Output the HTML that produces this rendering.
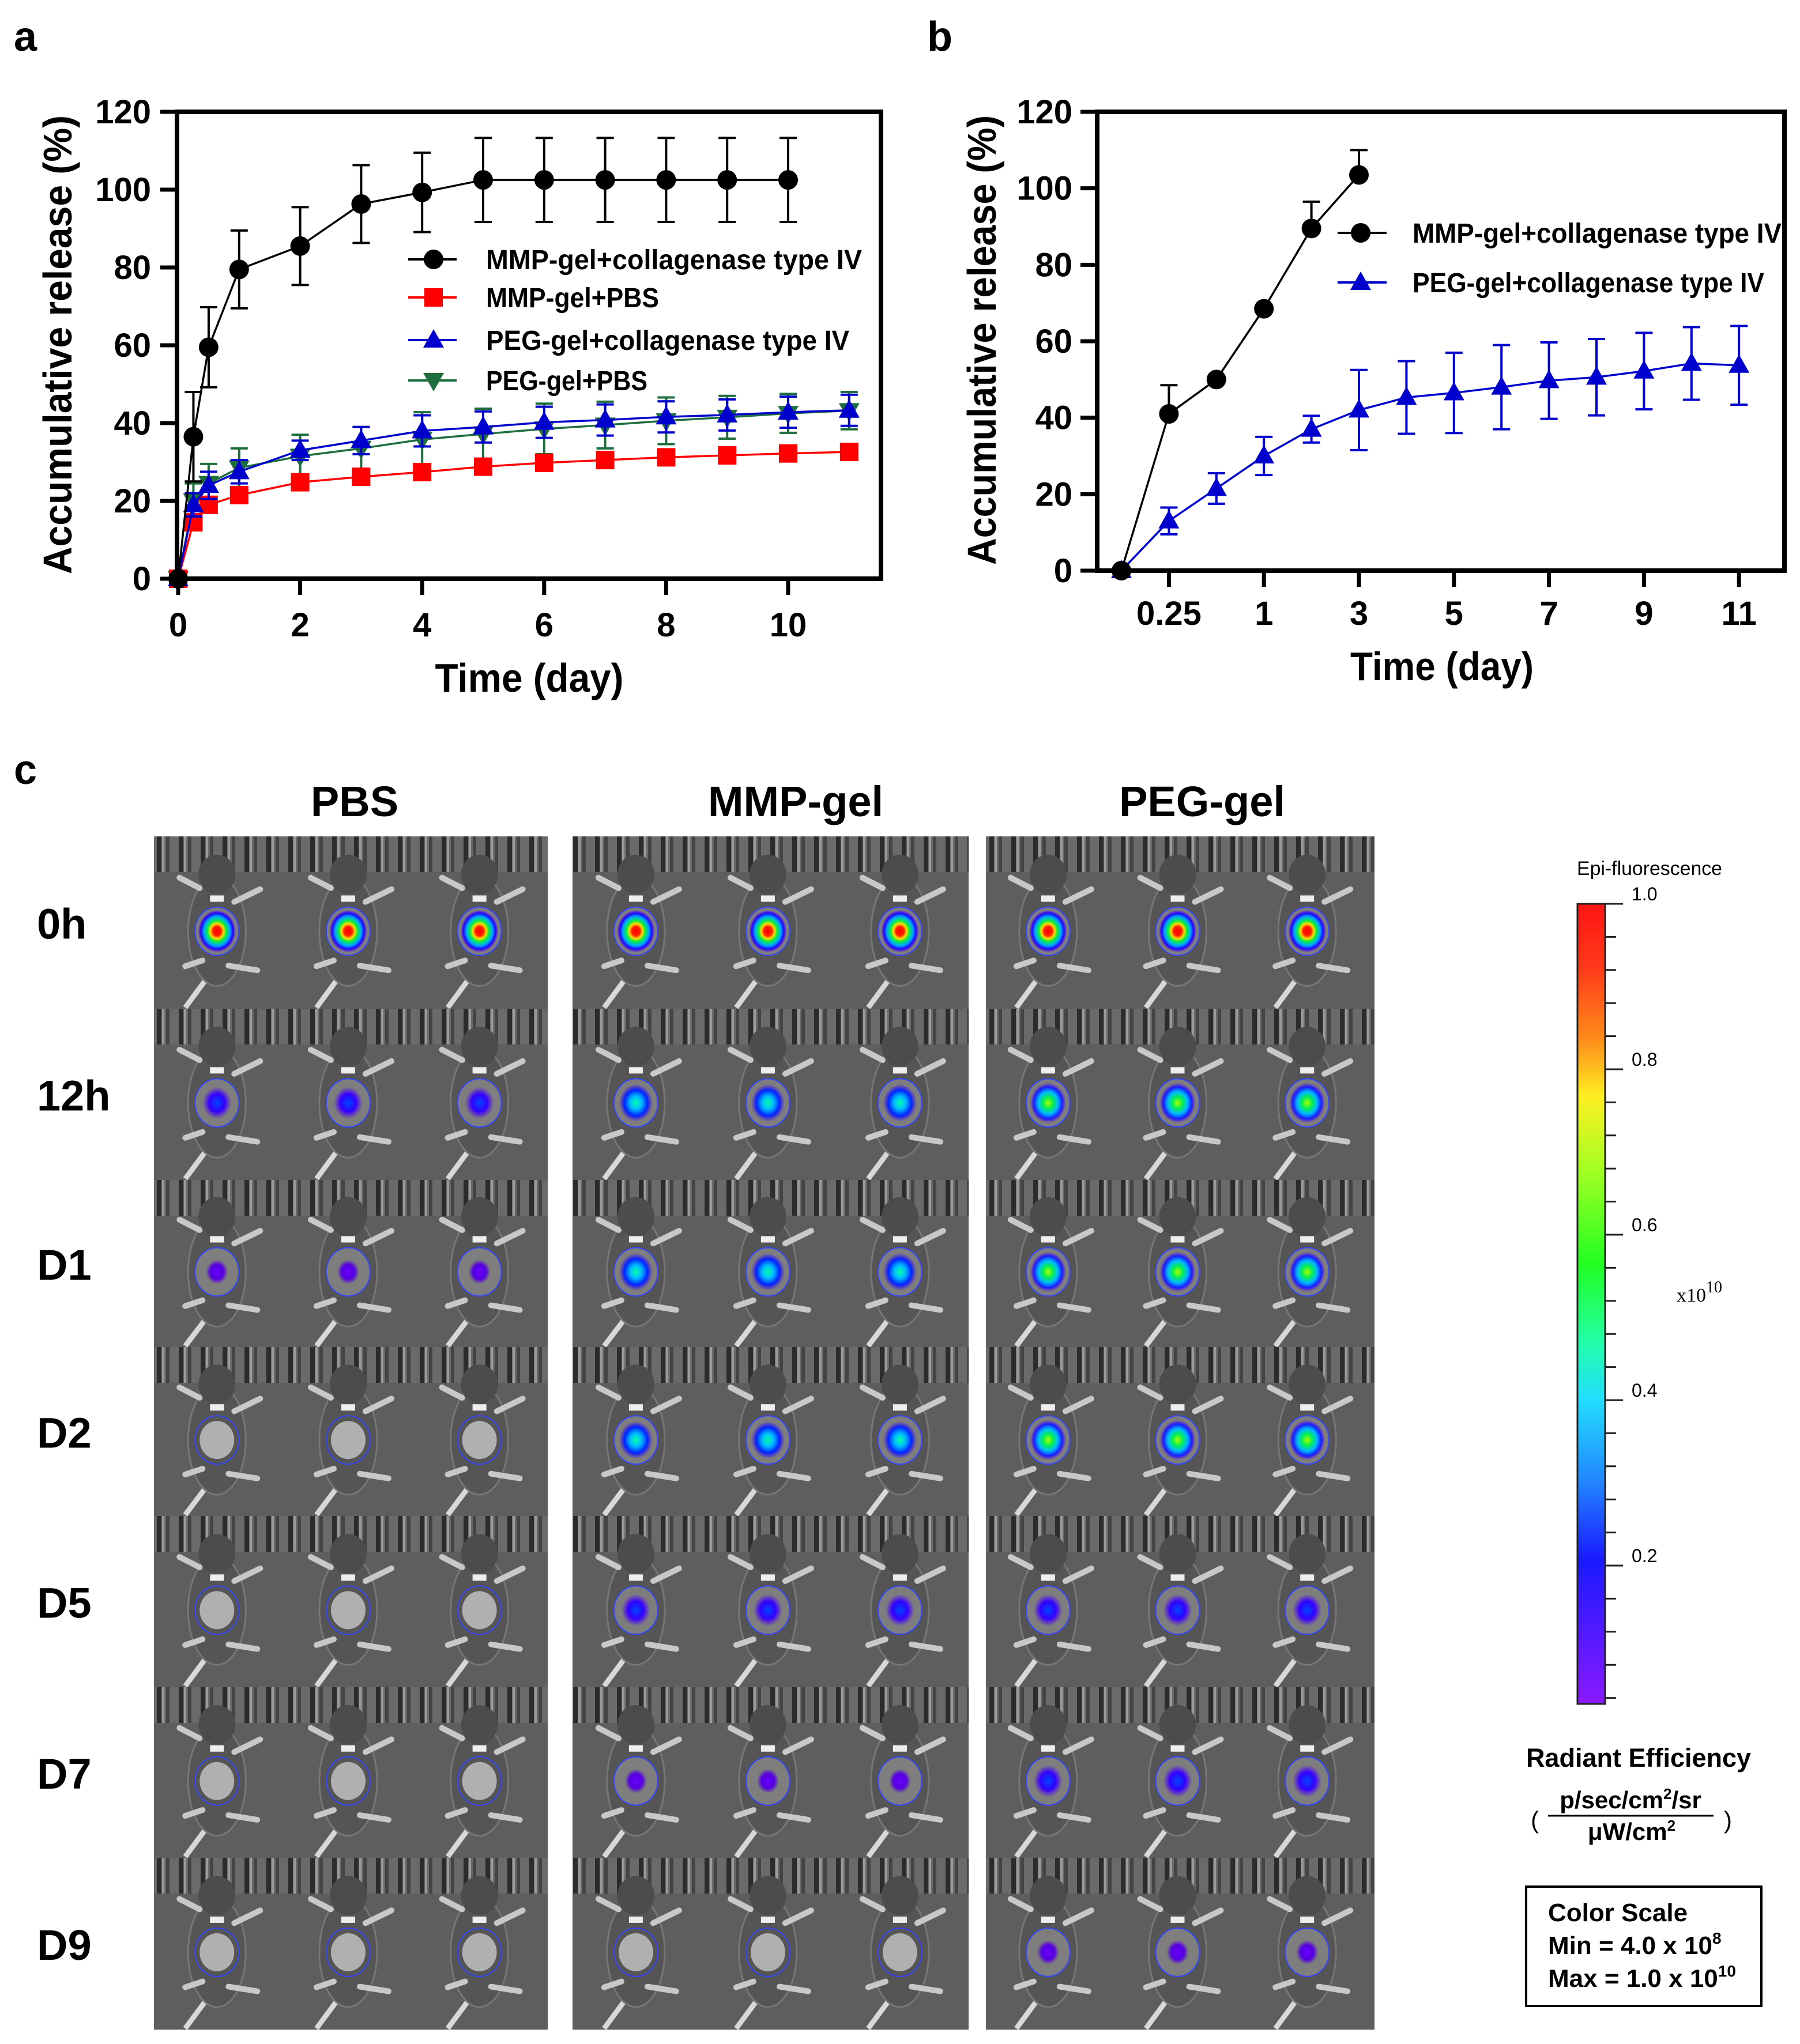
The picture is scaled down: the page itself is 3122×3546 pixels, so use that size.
<!DOCTYPE html>
<html><head><meta charset="utf-8">
<style>
html,body{margin:0;padding:0;background:#fff;}
svg{display:block;font-family:"Liberation Sans",sans-serif;}
.b{font-weight:bold;}
</style></head>
<body>
<svg id="root" xmlns="http://www.w3.org/2000/svg" width="3122" height="3546" viewBox="0 0 3122 3546">
<defs>
<linearGradient id="cbar" x1="0" y1="0" x2="0" y2="1">
<stop offset="0" stop-color="#ff1414"/><stop offset="0.08" stop-color="#ff3a1a"/><stop offset="0.17" stop-color="#ff8c1a"/><stop offset="0.24" stop-color="#ffee22"/><stop offset="0.33" stop-color="#a6ff22"/><stop offset="0.45" stop-color="#22ff22"/><stop offset="0.55" stop-color="#22ffaa"/><stop offset="0.62" stop-color="#22ddff"/><stop offset="0.72" stop-color="#2288ff"/><stop offset="0.82" stop-color="#1a1aff"/><stop offset="1" stop-color="#8a1aff"/>
</linearGradient>
<radialGradient id="sp-r"><stop offset="0" stop-color="#ff0000"/><stop offset="0.22" stop-color="#ff2200"/><stop offset="0.35" stop-color="#ffdd00"/><stop offset="0.5" stop-color="#00ee44"/><stop offset="0.68" stop-color="#00aaff"/><stop offset="0.85" stop-color="#2200ff"/><stop offset="1" stop-color="#6600ff" stop-opacity="0"/></radialGradient>
<radialGradient id="sp-g"><stop offset="0" stop-color="#aaff00"/><stop offset="0.3" stop-color="#00ee55"/><stop offset="0.55" stop-color="#00bbff"/><stop offset="0.8" stop-color="#1a1aff"/><stop offset="1" stop-color="#5500ff" stop-opacity="0"/></radialGradient>
<radialGradient id="sp-c"><stop offset="0" stop-color="#00ffaa"/><stop offset="0.35" stop-color="#00bbff"/><stop offset="0.7" stop-color="#0022ff"/><stop offset="1" stop-color="#4400ff" stop-opacity="0"/></radialGradient>
<radialGradient id="sp-b"><stop offset="0" stop-color="#0044ff"/><stop offset="0.55" stop-color="#3300ff"/><stop offset="1" stop-color="#5500ff" stop-opacity="0"/></radialGradient>
<radialGradient id="sp-p"><stop offset="0" stop-color="#6a00ff"/><stop offset="0.6" stop-color="#5500dd"/><stop offset="1" stop-color="#5500dd" stop-opacity="0"/></radialGradient>
<pattern id="cage" width="38" height="64" patternUnits="userSpaceOnUse"><rect width="38" height="64" fill="#6a6a6a"/><rect x="6" width="8" height="64" fill="#2c2c2c"/><rect x="22" width="6" height="64" fill="#444"/><rect x="15" width="4" height="64" fill="#9a9a9a"/></pattern>
</defs>

<text x="24" y="88" font-size="72" class="b">a</text>
<text x="1608" y="88" font-size="72" class="b">b</text>
<text x="24" y="1360" font-size="72" class="b">c</text>

<g id="chartA"></g>
<g id="chartB"></g>

<text x="0" y="0" transform="translate(124,598) rotate(-90)" text-anchor="middle" font-size="70" class="b" textLength="796" lengthAdjust="spacingAndGlyphs">Accumulative release (%)</text>
<text x="918" y="1200" text-anchor="middle" font-size="70" class="b" textLength="327" lengthAdjust="spacingAndGlyphs">Time (day)</text>
<text x="0" y="0" transform="translate(1727,590) rotate(-90)" text-anchor="middle" font-size="70" class="b" textLength="780" lengthAdjust="spacingAndGlyphs">Accumulative release (%)</text>
<text x="2501" y="1180" text-anchor="middle" font-size="70" class="b" textLength="318" lengthAdjust="spacingAndGlyphs">Time (day)</text>

<text x="615" y="1416" text-anchor="middle" font-size="74" class="b">PBS</text>
<text x="1380" y="1416" text-anchor="middle" font-size="74" class="b">MMP-gel</text>
<text x="2085" y="1416" text-anchor="middle" font-size="74" class="b">PEG-gel</text>
<g id="mice"></g>
<g id="rowlabels"></g>

<g>
<text x="2735" y="1518" font-size="34" textLength="252" lengthAdjust="spacingAndGlyphs">Epi-fluorescence</text>
<rect x="2736" y="1568" width="48" height="1388" fill="url(#cbar)" stroke="#222" stroke-width="3"/>
<g id="cbticks"></g>
<text x="2908" y="2258" font-size="34" font-family="Liberation Serif">x10<tspan dy="-16" font-size="28">10</tspan></text>
</g>
<text x="2842" y="3065" text-anchor="middle" font-size="45" class="b">Radiant Efficiency</text>
<text x="2828" y="3137" text-anchor="middle" font-size="42" class="b">p/sec/cm<tspan dy="-16" font-size="26">2</tspan><tspan dy="16">/sr</tspan></text>
<line x1="2685" y1="3150" x2="2972" y2="3150" stroke="#000" stroke-width="3"/>
<text x="2830" y="3192" text-anchor="middle" font-size="42" class="b">μW/cm<tspan dy="-16" font-size="26">2</tspan></text>
<text x="2655" y="3172" font-size="42">(</text>
<text x="2990" y="3172" font-size="42">)</text>
<rect x="2647" y="3273" width="408" height="207" fill="none" stroke="#000" stroke-width="4"/>
<text x="2685" y="3333" font-size="44" class="b">Color Scale</text>
<text x="2685" y="3390" font-size="44" class="b">Min = 4.0 x 10<tspan dy="-18" font-size="28">8</tspan></text>
<text x="2685" y="3447" font-size="44" class="b">Max = 1.0 x 10<tspan dy="-18" font-size="28">10</tspan></text>
</svg>

<script>
const aTimes = [0,0.25,0.5,1,2,3,4,5,6,7,8,9,10,11];
const aMmpColl = [0,36.5,59.5,79.5,85.5,96.3,99.3,102.5,102.5,102.5,102.5,102.5,102.5];
const aMmpCollErr = [0,11.5,10.3,10,10,10,10.2,10.8,10.8,10.8,10.8,10.8,10.8];
const aMmpPbs = [0,14.5,19,21.5,24.8,26.2,27.4,28.8,29.8,30.5,31.2,31.7,32.2,32.6];
const aMmpPbsErr = [0,1.5,1.5,1.5,1.5,1.5,1.5,1.5,1.5,1.5,1.5,1.5,1.5,1.5];
const aPegColl = [0,19,24,27.5,33,35.5,38,39,40.2,40.8,41.6,42.1,42.8,43.3];
const aPegCollErr = [0,3,3.5,3,2.5,3.5,4,4,4,4,4,4,4,4];
const aPegPbs = [0,20,24.5,28.5,31.5,33.5,35.8,37.2,38.5,39.5,40.6,41.5,42.5,43.2];
const aPegPbsErr = [0,4.5,5,5,5.5,5.5,7,6.5,6.5,6,6,5.5,5,4.8];
const aYTicks = [0,20,40,60,80,100,120];
const aXTicks = [0,2,4,6,8,10];
const aLegend = ["MMP-gel+collagenase type IV","MMP-gel+PBS","PEG-gel+collagenase type IV","PEG-gel+PBS"];

const bCategories = ["0","0.25","0.5","1","2","3","4","5","6","7","8","9","10","11"];
const bTickLabels = ["0.25","1","3","5","7","9","11"];
const bMmpColl = [0,41,50,68.5,89.5,103.5];
const bMmpCollErr = [0,7.5,0,0,7,6.5];
const bPegColl = [0,13,21.5,30,37,42,45.3,46.5,48,49.7,50.6,52.2,54.2,53.7];
const bPegCollErr = [0,3.5,4,5,3.5,10.5,9.5,10.5,11,10,10,10,9.5,10.3];
const bYTicks = [0,20,40,60,80,100,120];
const bLegend = ["MMP-gel+collagenase type IV","PEG-gel+collagenase type IV"];

const cGroups = ["PBS","MMP-gel","PEG-gel"];
const cRows = ["0h","12h","D1","D2","D5","D7","D9"];
const cSignal = [
  ["r","b","p","n","n","n","n"],
  ["r","c","c","c","b","p","n"],
  ["r","g","g","g","b","b","p"]
];
const cbLabels = ["1.0","0.8","0.6","0.4","0.2"];
const cbValues = [1.0,0.8,0.6,0.4,0.2];

const NS = "http://www.w3.org/2000/svg";
function mk(tag, attrs, parent){
  const e = document.createElementNS(NS, tag);
  for (const k in attrs) e.setAttribute(k, attrs[k]);
  parent.appendChild(e);
  return e;
}
function txt(str, attrs, parent){
  const e = mk('text', attrs, parent);
  e.textContent = str;
  return e;
}
function marker(kind, x, y, color, parent){
  let m;
  if (kind === 'circle') m = mk('circle',{cx:x,cy:y,r:17,fill:color},parent);
  else if (kind === 'square') m = mk('rect',{x:x-16,y:y-16,width:32,height:32,fill:color},parent);
  else if (kind === 'tri') m = mk('polygon',{points:`${x},${y-19} ${x+18},${y+13} ${x-18},${y+13}`,fill:color},parent);
  else m = mk('polygon',{points:`${x},${y+19} ${x+18},${y-13} ${x-18},${y-13}`,fill:color},parent);
  return m;
}

(function(){
  const g = document.getElementById('chartA');
  const X0=309, PX=105.8, Y0=1004, PY=810/120;
  const ax = v => X0 + v*PX;
  const ay = v => Y0 - v*PY;
  const series = [
    {v:aPegPbs, e:aPegPbsErr, c:'#1e6e3e', m:'tridown', n:'peg-gel-pbs'},
    {v:aMmpPbs, e:aMmpPbsErr, c:'#ff0000', m:'square', n:'mmp-gel-pbs'},
    {v:aPegColl, e:aPegCollErr, c:'#0000cc', m:'tri', n:'peg-gel-collagenase'},
    {v:aMmpColl, e:aMmpCollErr, c:'#000000', m:'circle', n:'mmp-gel-collagenase'}
  ];
  series.forEach(s=>{
    const sg = mk('g',{},g);
    
    
    s.v.forEach((v,i)=>{
      const x=ax(aTimes[i]), e=s.e[i];
      if (e>0){
        const eb = mk('path',{d:`M${x},${ay(v-e)}V${ay(v+e)}M${x-15},${ay(v+e)}H${x+15}M${x-15},${ay(v-e)}H${x+15}`,stroke:s.c,'stroke-width':4,fill:'none'},sg);
        
        
      }
    });
    const pts = s.v.map((v,i)=>ax(aTimes[i])+','+ay(v)).join(' ');
    const ln = mk('polyline',{points:pts,fill:'none',stroke:s.c,'stroke-width':3.5},sg);
    
    
    s.v.forEach((v,i)=>{
      const m = marker(s.m, ax(aTimes[i]), ay(v), s.c, sg);
      
      
    });
  });
  const box = mk('rect',{x:307,y:194,width:1221,height:810,fill:'none',stroke:'#000','stroke-width':8},g);
  
  
  aYTicks.forEach(t=>{
    const tk = mk('line',{x1:278,x2:307,y1:ay(t),y2:ay(t),stroke:'#000','stroke-width':7},g);
    
    
    const tl = txt(String(t),{x:262,y:ay(t)+20,'text-anchor':'end','font-size':58,'font-weight':'bold'},g);
    
    
  });
  aXTicks.forEach(t=>{
    const tk = mk('line',{x1:ax(t),x2:ax(t),y1:1004,y2:1032,stroke:'#000','stroke-width':7},g);
    
    
    const tl = txt(String(t),{x:ax(t),y:1104,'text-anchor':'middle','font-size':58,'font-weight':'bold'},g);
    
    
  });
  const lc = ['#000000','#ff0000','#0000cc','#1e6e3e'];
  const lm = ['circle','square','tri','tridown'];
  const ly = [450,516,590,660];
  const lw = [652,300,630,280];
  aLegend.forEach((name,i)=>{
    const lg = mk('g',{},g);
    
    
    mk('line',{x1:708,x2:792,y1:ly[i],y2:ly[i],stroke:lc[i],'stroke-width':4},lg);
    marker(lm[i],752,ly[i],lc[i],lg);
    txt(name,{x:843,y:ly[i]+17,'font-size':48,'font-weight':'bold',textLength:lw[i],lengthAdjust:'spacingAndGlyphs'},lg);
  });
})();

(function(){
  const g = document.getElementById('chartB');
  const X0=1945, PX=82.4, Y0=990, PY=796/120;
  const bx = i => X0 + i*PX;
  const by = v => Y0 - v*PY;
  const series = [
    {v:bPegColl, e:bPegCollErr, c:'#0000cc', m:'tri', n:'peg-gel-collagenase', both:true},
    {v:bMmpColl, e:bMmpCollErr, c:'#000000', m:'circle', n:'mmp-gel-collagenase', both:false}
  ];
  series.forEach(s=>{
    const sg = mk('g',{},g);
    
    
    s.v.forEach((v,i)=>{
      const x=bx(i), e=s.e[i];
      if (e>0){
        const lo = s.both ? v-e : v;
        let d = `M${x},${by(lo)}V${by(v+e)}M${x-15},${by(v+e)}H${x+15}`;
        if (s.both) d += `M${x-15},${by(lo)}H${x+15}`;
        const eb = mk('path',{d:d,stroke:s.c,'stroke-width':4,fill:'none'},sg);
        
        
      }
    });
    const pts = s.v.map((v,i)=>bx(i)+','+by(v)).join(' ');
    const ln = mk('polyline',{points:pts,fill:'none',stroke:s.c,'stroke-width':3.5},sg);
    
    
    s.v.forEach((v,i)=>{
      const m = marker(s.m, bx(i), by(v), s.c, sg);
      
      
    });
  });
  const box = mk('rect',{x:1903,y:194,width:1192,height:796,fill:'none',stroke:'#000','stroke-width':8},g);
  
  
  bYTicks.forEach(t=>{
    const tk = mk('line',{x1:1874,x2:1903,y1:by(t),y2:by(t),stroke:'#000','stroke-width':7},g);
    
    
    const tl = txt(String(t),{x:1860,y:by(t)+20,'text-anchor':'end','font-size':58,'font-weight':'bold'},g);
    
    
  });
  bTickLabels.forEach(lbl=>{
    const i = bCategories.indexOf(lbl);
    const tk = mk('line',{x1:bx(i),x2:bx(i),y1:990,y2:1018,stroke:'#000','stroke-width':7},g);
    
    
    const tl = txt(lbl,{x:bx(i),y:1084,'text-anchor':'middle','font-size':58,'font-weight':'bold'},g);
    
    
  });
  const lc = ['#000000','#0000cc'];
  const lm = ['circle','tri'];
  const ly = [404,490];
  const lw = [640,610];
  bLegend.forEach((name,i)=>{
    const lg = mk('g',{},g);
    
    
    mk('line',{x1:2320,x2:2405,y1:ly[i],y2:ly[i],stroke:lc[i],'stroke-width':4},lg);
    marker(lm[i],2360,ly[i],lc[i],lg);
    txt(name,{x:2450,y:ly[i]+17,'font-size':48,'font-weight':'bold',textLength:lw[i],lengthAdjust:'spacingAndGlyphs'},lg);
  });
})();

(function(){
  const g = document.getElementById('mice');
  const gx = [267,993,1710], gw = [683,687,674];
  const rowY = [1451,1750,2047,2337,2630,2927,3223,3521];
  const spotR = {r:33,g:31,c:29,b:25,p:19};
  cGroups.forEach((gn,gi)=>{
    cRows.forEach((rn,ri)=>{
      const y0=rowY[ri], h=rowY[ri+1]-rowY[ri];
      const cell = mk('g',{},g);
      
      
      mk('rect',{x:gx[gi],y:y0,width:gw[gi],height:h,fill:'#5e5e5e'},cell);
      mk('rect',{x:gx[gi],y:y0,width:gw[gi],height:62,fill:'url(#cage)'},cell);
      const cw = gw[gi]/3;
      for (let k=0;k<3;k++){
        const cx = gx[gi]+k*cw+cw*0.48, cy=y0+h*0.55;
        mk('path',{d:`M${cx-8},${y0+h*0.78} L${cx-55},${y0+h-2}`,stroke:'#d8d8d8','stroke-width':9,fill:'none'},cell);
        mk('ellipse',{cx:cx,cy:cy,rx:50,ry:95,fill:'#555',stroke:'#777','stroke-width':3},cell);
        mk('ellipse',{cx:cx,cy:y0+h*0.22,rx:32,ry:34,fill:'#4c4c4c'},cell);
        mk('path',{d:`M${cx-30},${y0+h*0.3} l-35,-18 M${cx+30},${y0+h*0.38} l45,-22 M${cx+20},${y0+h*0.75} l50,8 M${cx-25},${y0+h*0.72} l-30,10`,stroke:'#c8c8c8','stroke-width':10,'stroke-linecap':'round',fill:'none'},cell);
        const t = cSignal[gi][ri];
        if (t==='n'){
          mk('ellipse',{cx:cx,cy:cy,rx:30,ry:33,fill:'#b0b0b0'},cell);
        } else {
          mk('ellipse',{cx:cx,cy:cy,rx:38,ry:42,fill:'#9a9a9a','fill-opacity':0.6},cell);
          const sp = mk('ellipse',{cx:cx,cy:cy,rx:spotR[t],ry:spotR[t]*1.12,fill:'url(#sp-'+t+')'},cell);
          
          
        }
        mk('ellipse',{cx:cx,cy:cy,rx:38,ry:42,fill:'none',stroke:'#3344ff','stroke-width':2},cell);
        mk('rect',{x:cx-12,y:cy-62,width:24,height:11,fill:'#eee'},cell);
      }
    });
  });
  const rl = document.getElementById('rowlabels');
  cRows.forEach((rn,ri)=>{
    const cy = (rowY[ri]+rowY[ri+1])/2;
    const t = txt(rn,{x:64,y:cy+28,'font-size':74,'font-weight':'bold'},rl);
    
    
  });
  const ct = document.getElementById('cbticks');
  const cbY = v => 1568 + (1.0-v)*1435;
  for (let y=1568; y<2956; y+=57.4){
    mk('line',{x1:2784,x2:2803,y1:y,y2:y,stroke:'#222','stroke-width':3},ct);
  }
  cbValues.forEach((v,i)=>{
    const tk = mk('line',{x1:2784,x2:2815,y1:cbY(v),y2:cbY(v),stroke:'#222','stroke-width':3},ct);
    
    
    const tl = txt(cbLabels[i],{x:2830,y:cbY(v)-6,'font-size':32},ct);
    
    
  });
})();
</script>
</body></html>
